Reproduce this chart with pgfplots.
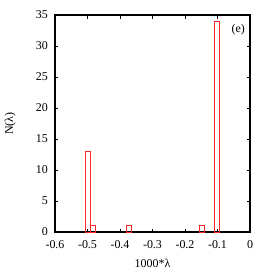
\documentclass[border=0pt]{standalone}
\usepackage{pgfplots}
\pgfplotsset{compat=1.18}
\usepackage{fontspec}
\setmainfont{Liberation Serif}
\begin{document}
\fontsize{12}{14}\selectfont
\begin{tikzpicture}
\path[use as bounding box] (-55bp,-41bp) rectangle (218bp,232bp);
\begin{axis}[
  at={(0,0)}, anchor=south west,
  scale only axis, width=195bp, height=217bp,
  xmin=-0.6, xmax=0, ymin=0, ymax=35,
  xtick={-0.6,-0.5,-0.4,-0.3,-0.2,-0.1,0},
  ytick={0,5,10,15,20,25,30,35},
  tick align=inside, major tick length=3.5bp,
  tick style={line width=1pt, black},
  axis line style={line width=1.3pt},
  /pgf/number format/assume math mode=true,
  ticklabel style={font=\fontsize{12}{14}\selectfont},
  xticklabel style={yshift=-4bp},
  yticklabel style={xshift=-3bp},
  xlabel={1000*λ}, ylabel={N(λ)},
  label style={font=\fontsize{12}{14}\selectfont},
  xlabel style={yshift=-3bp},
  ylabel style={yshift=12bp},
]
\addplot[ybar, bar width=0.0165, draw={rgb,255:red,255;green,40;blue,40}, fill=none, line width=0.9pt]
coordinates {(-0.4995,13) (-0.4831,1) (-0.3723,1) (-0.1487,1) (-0.1010,34)};
\node[anchor=north east, font=\fontsize{12}{14}\selectfont] at (rel axis cs:0.995,0.975) {(e)};
\end{axis}
\end{tikzpicture}
\end{document}
